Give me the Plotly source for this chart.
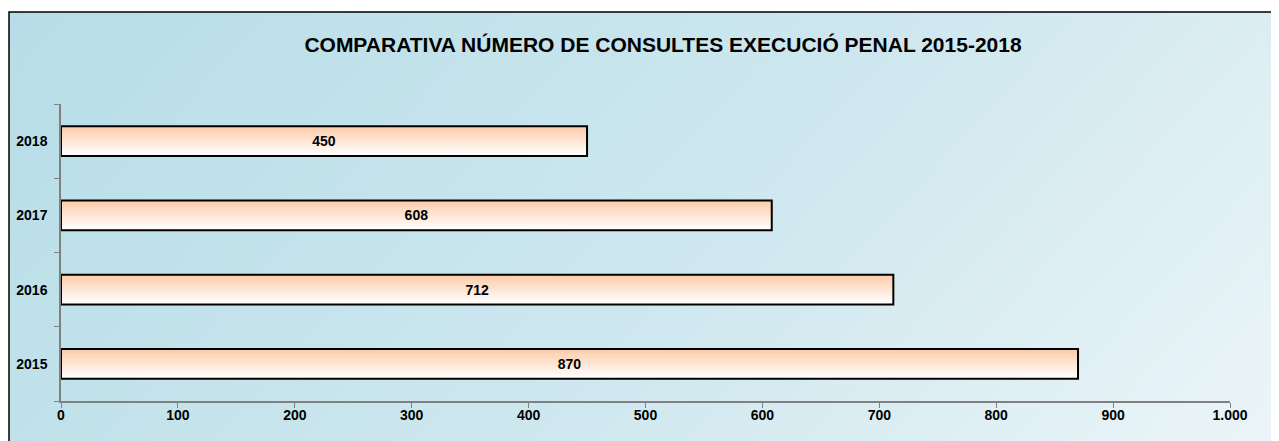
import base64
import plotly.graph_objects as go

# ---- data ----
years = ["2015", "2016", "2017", "2018"]
consultes = [870, 712, 608, 450]
title_text = "COMPARATIVA NÚMERO DE CONSULTES EXECUCIÓ PENAL 2015-2018"

# ---- figure geometry (page body adds an 8px offset) ----
OFF = 8
W, H = 1279 - OFF, 441 - OFF
ML, MR, MT, MB = 61 - OFF, W - (1230 - OFF), 104 - OFF, H - (401 - OFF)
PW, PH = W - ML - MR, H - MT - MB

def px_to_paper_x(px):
    return (px - OFF - ML) / PW

def px_to_paper_y(py):
    return (H - MB - (py - OFF)) / PH

# background: diagonal gradient as SVG image
bw, bh = 1300, 440
svg = f'''<svg xmlns="http://www.w3.org/2000/svg" width="{bw}" height="{bh}" viewBox="0 0 {bw} {bh}" preserveAspectRatio="none">
<defs><linearGradient id="g" gradientUnits="userSpaceOnUse" x1="0" y1="0" x2="{bw*0.8}" y2="{bh*2.2}">
<stop offset="0" stop-color="#b6dde7"/>
<stop offset="0.5" stop-color="#d0e8ef"/>
<stop offset="1" stop-color="#f6fafc"/>
</linearGradient></defs>
<rect x="0" y="0" width="{bw}" height="{bh}" fill="url(#g)"/>
</svg>'''
src = "data:image/svg+xml;base64," + base64.b64encode(svg.encode()).decode()

bx0 = px_to_paper_x(9)
by1 = px_to_paper_y(12)

fig = go.Figure()

# bar gradient (peach top -> white bottom) via layered overlay bars
bar_w = 0.40
top_rgb = (252, 204, 170)
bot_rgb = (255, 255, 255)
N = 24
for k in range(N):
    t = k / (N - 1)
    c = tuple(round(top_rgb[i] + (bot_rgb[i] - top_rgb[i]) * t) for i in range(3))
    frac = 1 - k / N
    fig.add_trace(go.Bar(
        y=years, x=consultes, orientation="h",
        width=bar_w * frac, offset=-bar_w / 2,
        marker=dict(color=f"rgb{c}", line=dict(width=0)),
        hoverinfo="skip", showlegend=False,
    ))

# outline + labels
fig.add_trace(go.Bar(
    y=years, x=consultes, orientation="h",
    width=bar_w, offset=-bar_w / 2,
    marker=dict(color="rgba(0,0,0,0)", line=dict(color="black", width=2)),
    text=[str(v) for v in consultes], textposition="inside",
    insidetextanchor="middle",
    textfont=dict(family="Liberation Sans", size=14, color="black", weight="bold"),
    showlegend=False,
))

fig.update_layout(
    width=W, height=H,
    margin=dict(l=ML, r=MR, t=MT, b=MB, autoexpand=False),
    paper_bgcolor="white",
    plot_bgcolor="rgba(0,0,0,0)",
    barmode="overlay",
    separators=",.",
    font=dict(family="Liberation Sans", color="black"),
    title=dict(text=title_text, x=(663 - OFF) / W, xanchor="center",
               y=1 - (45 - OFF) / H, yanchor="middle",
               font=dict(family="Liberation Sans", size=21, color="black", weight="bold")),
    images=[dict(source=src, xref="paper", yref="paper", x=bx0, y=by1,
                 sizex=bw / PW, sizey=bh / PH, sizing="stretch",
                 xanchor="left", yanchor="top", layer="below")],
    shapes=[dict(type="rect", xref="paper", yref="paper",
                 x0=bx0, x1=bx0 + bw / PW, y0=by1 - bh / PH, y1=by1,
                 line=dict(color="black", width=1.5), fillcolor="rgba(0,0,0,0)",
                 layer="below")],
    xaxis=dict(range=[0, 1000], dtick=100, tick0=0, showgrid=False, zeroline=False,
               showline=True, linecolor="#808080", linewidth=1.5,
               ticks="outside", ticklen=5, tickcolor="#808080", automargin=False,
               separatethousands=True, ticklabelstandoff=-5,
               tickfont=dict(family="Liberation Sans", size=14, color="black", weight="bold")),
    yaxis=dict(type="category", categoryorder="array", categoryarray=years,
               range=[-0.5, 3.5], showgrid=False, zeroline=False,
               showline=True, linecolor="#808080", linewidth=1.5,
               ticks="outside", ticklen=5, tickcolor="#808080", tickson="boundaries",
               ticklabelstandoff=9, automargin=False,
               tickfont=dict(family="Liberation Sans", size=14, color="black", weight="bold")),
)

fig.write_html("out.html")
